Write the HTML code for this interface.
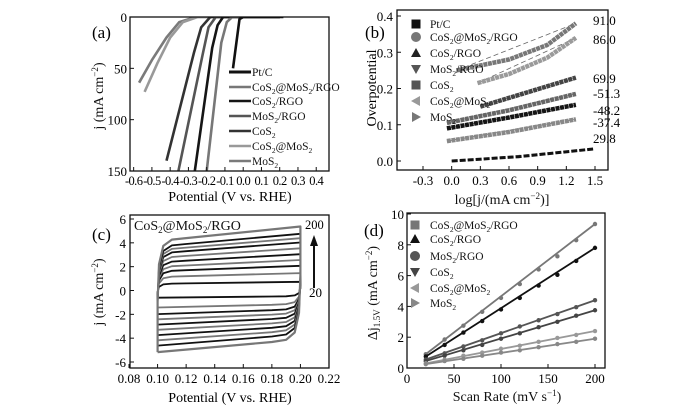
<!DOCTYPE html>
<html><head><meta charset="utf-8"><style>
html,body{margin:0;padding:0;background:#fff;}
svg{display:block;}
svg text{font-family:"Liberation Serif","Times New Roman",serif;}
</style></head><body>
<svg id="fig" width="700" height="415" viewBox="0 0 700 415" xmlns="http://www.w3.org/2000/svg" font-family="Liberation Serif, serif">
<rect width="700" height="415" fill="#fff"/>
<g id="pa"></g>
<g id="pb"></g>
<g id="pc"></g>
<g id="pd"></g>
</svg>
<script>
// ---------- Panel (a) data ----------
const aNames = ["Pt/C","CoS2@MoS2/RGO","CoS2/RGO","MoS2/RGO","CoS2","CoS2@MoS2","MoS2"];
const aColors = ["#111","#777","#151515","#555","#333","#999","#7a7a7a"];
const aPtC = [[0.22,0],[0.0,0],[-0.02,2],[-0.056,50]];
const aCMR = [[0.2,0],[-0.06,0],[-0.09,5],[-0.12,25],[-0.2,150]];
const aCR = [[0.2,0],[-0.11,0],[-0.14,8],[-0.17,30],[-0.265,150]];
const aMR = [[0.2,0],[-0.15,0],[-0.19,10],[-0.22,35],[-0.355,150]];
const aC = [[0.2,0],[-0.18,0],[-0.23,10],[-0.27,35],[-0.42,140]];
const aCM = [[0.2,0],[-0.25,0],[-0.33,5],[-0.40,20],[-0.47,45],[-0.54,73]];
const aM = [[0.2,0],[-0.26,0],[-0.35,5],[-0.42,20],[-0.5,42],[-0.57,64]];
const aXTicks = [-0.6,-0.5,-0.4,-0.3,-0.2,-0.1,0.0,0.1,0.2,0.3,0.4];
const aYTicks = [0,50,100,150];
// ---------- Panel (b) data ----------
const bNames = ["Pt/C","CoS2@MoS2/RGO","CoS2/RGO","MoS2/RGO","CoS2","CoS2@MoS2","MoS2"];
const bSlopes = ["91.0","86.0","69.9","51.3","48.2","37.4","29.8"];
const b91 = [[0.05,0.25],[0.6,0.28],[1.0,0.32],[1.3,0.38]];
const b86 = [[0.27,0.215],[0.6,0.24],[1.0,0.285],[1.3,0.34]];
const b69 = [[0.3,0.15],[0.8,0.19],[1.3,0.23]];
const b51 = [[-0.05,0.105],[0.6,0.14],[1.3,0.185]];
const b48 = [[-0.05,0.09],[0.6,0.12],[1.3,0.155]];
const b37 = [[-0.05,0.055],[0.6,0.08],[1.3,0.115]];
const b29 = [[0.0,0.0],[0.7,0.012],[1.48,0.033]];
const bXTicks = [-0.3,0.0,0.3,0.6,0.9,1.2,1.5];
const bYTicks = [0.0,0.1,0.2,0.3,0.4];
// ---------- Panel (c) data ----------
const cRates = [20,40,60,80,100,120,140,160,180,200];
const cUpper = [0.6,1.2,1.7,2.1,2.5,2.9,3.3,3.6,3.9,4.4];
const cLower = [-0.55,-1.3,-1.8,-2.2,-2.6,-3.0,-3.4,-3.8,-4.2,-4.7];
const cXTicks = [0.08,0.10,0.12,0.14,0.16,0.18,0.20,0.22];
const cYTicks = [-6,-4,-2,0,2,4,6];
// ---------- Panel (d) data ----------
const dRates = [20,40,60,80,100,120,140,160,180,200];
const dNames = ["CoS2@MoS2/RGO","CoS2/RGO","MoS2/RGO","CoS2","CoS2@MoS2","MoS2"];
const dCMR = [0.9,1.85,2.75,3.65,4.55,5.45,6.4,7.25,8.3,9.35];
const dCR = [0.75,1.5,2.3,3.05,3.8,4.55,5.35,6.05,6.95,7.8];
const dMR = [0.55,0.95,1.4,1.8,2.25,2.7,3.1,3.5,3.95,4.4];
const dC = [0.45,0.8,1.15,1.5,1.9,2.25,2.65,3.0,3.4,3.75];
const dCM = [0.3,0.55,0.8,1.0,1.25,1.45,1.7,1.95,2.15,2.4];
const dM = [0.25,0.45,0.6,0.8,1.0,1.15,1.35,1.55,1.7,1.9];
const dXTicks = [0,50,100,150,200];
const dYTicks = [0,2,4,6,8,10];

const NS="http://www.w3.org/2000/svg";
const FF="Liberation Serif, serif";
function mk(parent,tag,attrs,text){const e=document.createElementNS(NS,tag);for(const k in attrs)e.setAttribute(k,attrs[k]);if(tag==="text")e.setAttribute("font-family",FF);if(text!==undefined)e.textContent=text;parent.appendChild(e);return e;}
function lin(d0,d1,r0,r1){return v=>r0+(v-d0)*(r1-r0)/(d1-d0);}
function sub(parent,x,y,parts,size,anchor){
  const t=mk(parent,"text",{x:x,y:y,"font-size":size,"text-anchor":anchor||"start",fill:"#111"});
  parts.forEach(p=>{const s=mk(t,"tspan",{},p[0]);if(p[1]==="sub"){s.setAttribute("font-size",size*0.65);s.setAttribute("dy",3);}if(p[1]==="sup"){s.setAttribute("font-size",size*0.65);s.setAttribute("dy",-5);}if(p[1]==="back"){s.setAttribute("dy",-3);}if(p[1]==="back2"){s.setAttribute("dy",5);}});
  return t;}
function chem(name){
  const parts=[];let buf="";
  for(let i=0;i<name.length;i++){const ch=name[i];if(/\d/.test(ch)){if(buf)parts.push([buf,parts.length&&parts[parts.length-1][1]==="sub"?"back":""]);buf="";parts.push([ch,"sub"]);}else buf+=ch;}
  if(buf)parts.push([buf,parts.length&&parts[parts.length-1][1]==="sub"?"back":""]);
  return parts;}
function frame(g,x0,y0,x1,y1){const r=mk(g,"rect",{x:x0,y:y0,width:x1-x0,height:y1-y0,fill:"none",stroke:"#111","stroke-width":1.3});}
function pts(arr,sx,sy){return arr.map(p=>sx(p[0]).toFixed(1)+","+sy(p[1]).toFixed(1)).join(" ");}

// ================= Panel (a) =================
(function(){
const g=document.getElementById("pa");
const X0=130,X1=329,Y0=17,Y1=171;
const sx=lin(-0.62,0.47,X0,X1), sy=lin(0,150,Y0,Y1);
const series=[aPtC,aCMR,aCR,aMR,aC,aCM,aM];
const cp=mk(g,"clipPath",{id:"ca"});mk(cp,"rect",{x:X0,y:Y0,width:X1-X0,height:Y1-Y0});
const sg=mk(g,"g",{"clip-path":"url(#ca)"});
for(let i=series.length-1;i>=0;i--){const l=mk(sg,"polyline",{points:pts(series[i],sx,sy),fill:"none",stroke:aColors[i],"stroke-width":2.6,"stroke-linejoin":"round"});

}
frame(g,X0,Y0,X1,Y1);
aXTicks.forEach(v=>{mk(g,"line",{x1:sx(v),x2:sx(v),y1:Y1,y2:Y1-4,stroke:"#111"});const t=mk(g,"text",{x:sx(v),y:Y1+14,"font-size":12.5,"text-anchor":"middle","letter-spacing":"-0.6"},v.toFixed(1));});
aYTicks.forEach(v=>{mk(g,"line",{x1:X0,x2:X0+4,y1:sy(v),y2:sy(v),stroke:"#111"});const t=mk(g,"text",{x:X0-3,y:sy(v)+5,"font-size":13,"text-anchor":"end"},v);});
const lab=mk(g,"text",{x:92,y:38,"font-size":17},"(a)");
const xt=mk(g,"text",{x:230,y:201,"font-size":14,"text-anchor":"middle"},"Potential (V vs. RHE)");
const yt=sub(g,0,0,[["j (mA cm",""],["−2","sup"],[")","back2"]],14,"middle");yt.setAttribute("transform","translate(103,96) rotate(-90)");
const ly=[72,87,101,116,131,146,161];
aNames.forEach((n,i)=>{const e=mk(g,"g",{});
mk(e,"line",{x1:229,x2:251,y1:ly[i],y2:ly[i],stroke:aColors[i],"stroke-width":i===0?3:2.4});
sub(e,252,ly[i]+4,chem(n),11.5);});
})();

// ================= Panel (b) =================
(function(){
const g=document.getElementById("pb");
const X0=397,X1=608,Y0=10,Y1=170;
const sx=lin(-0.3,1.5,423,595), sy=lin(0,0.4,161,16);
const series=[b91,b86,b69,b51,b48,b37,b29];
const cols=["#777","#9a9a9a","#444","#666","#151515","#888","#111"];
series.forEach((s,i)=>{
 const f=mk(g,"polyline",{points:pts([s[0],s[s.length-1]],sx,sy),fill:"none",stroke:"#666","stroke-width":0.8,"stroke-dasharray":"5,3"});
 
 const l=mk(g,"polyline",{points:pts(s,sx,sy),fill:"none",stroke:cols[i],"stroke-width":i===6?3:4.5,"stroke-dasharray":i===6?"6,2":"4,0.6","stroke-linejoin":"round"});
 
 const t=mk(g,"text",{x:593,y:[25,44,83,98,115,127,143][i],"font-size":13},(i===3||i===4||i===5?"-":"")+bSlopes[i]);
 
});
frame(g,X0,Y0,X1,Y1);
bXTicks.forEach(v=>{mk(g,"line",{x1:sx(v),x2:sx(v),y1:Y1,y2:Y1-4,stroke:"#111"});const t=mk(g,"text",{x:sx(v),y:Y1+15,"font-size":13,"text-anchor":"middle"},v.toFixed(1));});
bYTicks.forEach(v=>{mk(g,"line",{x1:X0,x2:X0+4,y1:sy(v),y2:sy(v),stroke:"#111"});const t=mk(g,"text",{x:X0-4,y:sy(v)+5,"font-size":13,"text-anchor":"end"},v.toFixed(1));});
const lab=mk(g,"text",{x:365,y:38,"font-size":17},"(b)");
const xt=sub(g,502,204,[["log[j/(mA cm",""],["−2","sup"],[")]","back2"]],14,"middle");
const yt=mk(g,"text",{x:0,y:0,"font-size":14,"text-anchor":"middle",transform:"translate(376,88) rotate(-90)"},"Overpotential");
const ly=[24,37,53,69,85,101,117];
const mcol=["#111","#777","#222","#555","#555","#999","#777"];
bNames.forEach((n,i)=>{const e=mk(g,"g",{});
const x=416,y=ly[i];
if(i===0||i===4) mk(e,"rect",{x:x-4.5,y:y-4.5,width:9,height:9,fill:mcol[i]});
else if(i===1) mk(e,"circle",{cx:x,cy:y,r:5,fill:mcol[i]});
else if(i===2) mk(e,"polygon",{points:`${x-5},${y+4} ${x+5},${y+4} ${x},${y-5}`,fill:mcol[i]});
else if(i===3) mk(e,"polygon",{points:`${x-5},${y-4} ${x+5},${y-4} ${x},${y+5}`,fill:mcol[i]});
else if(i===5) mk(e,"polygon",{points:`${x+4},${y-5} ${x+4},${y+5} ${x-5},${y}`,fill:mcol[i]});
else mk(e,"polygon",{points:`${x-4},${y-5} ${x-4},${y+5} ${x+5},${y}`,fill:mcol[i]});
sub(e,430,y+4,chem(n),11.5);});
})();

// ================= Panel (c) =================
(function(){
const g=document.getElementById("pc");
const X0=130,X1=329,Y0=215,Y1=368;
const sx=lin(0.08,0.22,129,329), sy=lin(0,6,290.5,219);
cRates.forEach((r,i)=>{
 const U=cUpper[i],L=cLower[i];
 const p=[[0.1,L*1.1],[0.1,L*0.2],[0.101,U*0.5],[0.104,U*0.85],[0.11,U*0.97],[0.12,U],[0.2,U*1.22],[0.2,U*0.3],[0.199,L*0.4],[0.196,L*0.75],[0.19,L*0.88],[0.18,L*0.92],[0.1,L*1.1]];
 const l=mk(g,"polyline",{points:pts(p,sx,sy),fill:"none",stroke:i%2? "#777":"#111","stroke-width":i===cRates.length-1?2.2:1.8,"stroke-linejoin":"round"});
 
});
frame(g,X0,Y0,X1,Y1);
cXTicks.forEach(v=>{mk(g,"line",{x1:sx(v),x2:sx(v),y1:Y1,y2:Y1-4,stroke:"#111"});const t=mk(g,"text",{x:sx(v),y:Y1+15,"font-size":13,"text-anchor":"middle"},v.toFixed(2));});
cYTicks.forEach(v=>{mk(g,"line",{x1:X0,x2:X0+4,y1:sy(v),y2:sy(v),stroke:"#111"});const t=mk(g,"text",{x:X0-4,y:sy(v)+5,"font-size":13,"text-anchor":"end"},v);});
const lab=mk(g,"text",{x:92,y:240,"font-size":17},"(c)");
const nm=sub(g,134,230,chem("CoS2@MoS2/RGO"),14);
const t2=mk(g,"text",{x:305,y:229,"font-size":12.5},"200");
const t3=mk(g,"text",{x:309,y:297,"font-size":13},"20");
const ar=mk(g,"g",{});
mk(ar,"line",{x1:314,x2:314,y1:288,y2:244,stroke:"#111","stroke-width":2});
mk(ar,"polygon",{points:"310,246 318,246 314,235",fill:"#111"});
const xt=mk(g,"text",{x:230,y:402,"font-size":14,"text-anchor":"middle"},"Potential (V vs. RHE)");
const yt=sub(g,0,0,[["j (mA cm",""],["−2","sup"],[")","back2"]],14,"middle");yt.setAttribute("transform","translate(103,292) rotate(-90)");
})();

// ================= Panel (d) =================
(function(){
const g=document.getElementById("pd");
const X0=407,X1=605,Y0=213,Y1=368;
const sx=lin(0,200,407,595), sy=lin(0,10,368,214);
const series=[dCMR,dCR,dMR,dC,dCM,dM];
const cols=["#777","#111","#555","#444","#999","#888"];
series.forEach((s,i)=>{
 const first=s[0],last=s[s.length-1];
 const l=mk(g,"line",{x1:sx(dRates[0]),y1:sy(first),x2:sx(dRates[dRates.length-1]),y2:sy(last),stroke:cols[i],"stroke-width":1.8});
 
 s.forEach((v,j)=>{const c=mk(g,"circle",{cx:sx(dRates[j]),cy:sy(v),r:2.2,fill:cols[i]});
 });
});
frame(g,X0,Y0,X1,Y1);
dXTicks.forEach(v=>{mk(g,"line",{x1:sx(v),x2:sx(v),y1:Y1,y2:Y1-4,stroke:"#111"});const t=mk(g,"text",{x:sx(v),y:Y1+15,"font-size":13,"text-anchor":"middle"},v);});
dYTicks.forEach(v=>{mk(g,"line",{x1:X0,x2:X0+4,y1:sy(v),y2:sy(v),stroke:"#111"});const t=mk(g,"text",{x:X0-3,y:sy(v)+5,"font-size":13,"text-anchor":"end"},v);});
const lab=mk(g,"text",{x:364,y:236,"font-size":17},"(d)");
const xt=sub(g,507,401,[["Scan Rate (mV s",""],["−1","sup"],[")","back2"]],14,"middle");
const yt=sub(g,0,0,[["Δj",""],["1.5V","sub"],[" (mA cm","back"],["−2","sup"],[")","back2"]],14,"middle");yt.setAttribute("transform","translate(377,293) rotate(-90)");
const ly=[225,239,256,272,288,303];
const mcol=["#777","#111","#555","#444","#999","#888"];
dNames.forEach((n,i)=>{const e=mk(g,"g",{});
const x=415,y=ly[i];
if(i===0) mk(e,"rect",{x:x-4.5,y:y-4.5,width:9,height:9,fill:mcol[i]});
else if(i===1) mk(e,"polygon",{points:`${x-5},${y+4} ${x+5},${y+4} ${x},${y-5}`,fill:mcol[i]});
else if(i===2) mk(e,"circle",{cx:x,cy:y,r:5,fill:mcol[i]});
else if(i===3) mk(e,"polygon",{points:`${x-5},${y-4} ${x+5},${y-4} ${x},${y+5}`,fill:mcol[i]});
else if(i===4) mk(e,"polygon",{points:`${x+4},${y-5} ${x+4},${y+5} ${x-5},${y}`,fill:mcol[i]});
else mk(e,"polygon",{points:`${x-4},${y-5} ${x-4},${y+5} ${x+5},${y}`,fill:mcol[i]});
sub(e,430,y+4,chem(n),11.5);});
})();
</script>
</body></html>
